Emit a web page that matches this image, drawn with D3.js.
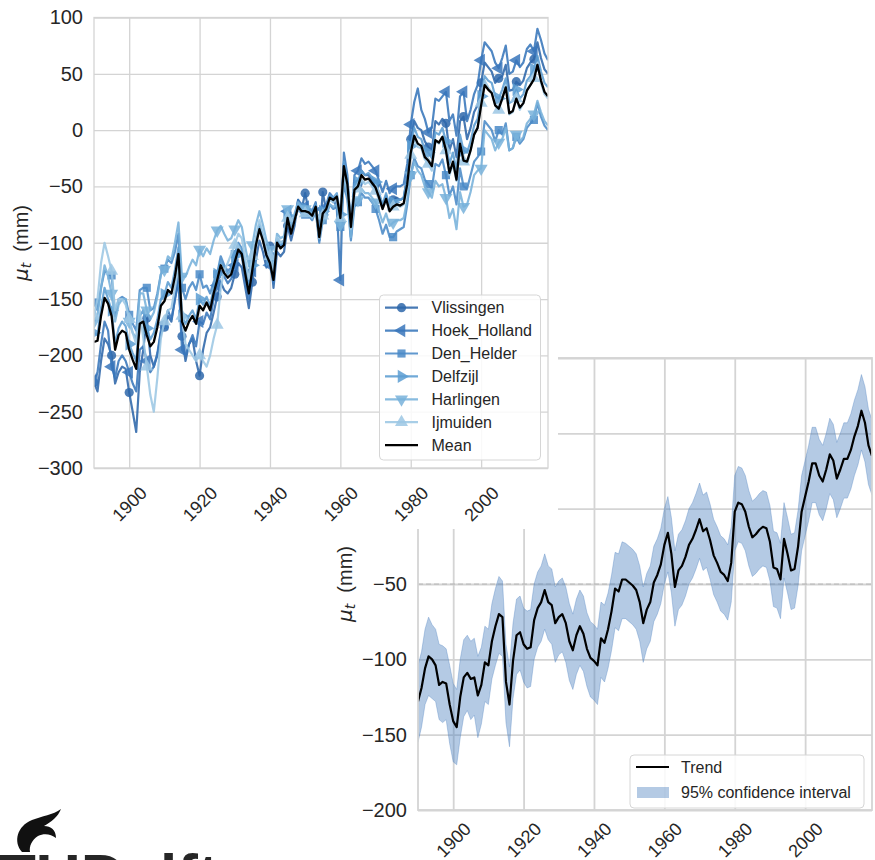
<!DOCTYPE html>
<html><head><meta charset="utf-8">
<script src="https://cdn.jsdelivr.net/npm/d3@7"></script>
<style>
body{margin:0;background:#fff}
svg{display:block}
text{font-family:"Liberation Sans",Arial,sans-serif;fill:#262626}
</style>
</head><body>
<svg id="c" width="875" height="860"></svg>
<script>
// ---------------- DATA ----------------
const startYear = 1890;
const xTicks = [1900, 1920, 1940, 1960, 1980, 2000];
const yTicksTop = [-300, -250, -200, -150, -100, -50, 0, 50, 100];
const yTicksTrend = [-200, -150, -100, -50, 0, 50, 100];
const stationNames = ["Vlissingen", "Hoek_Holland", "Den_Helder", "Delfzijl", "Harlingen", "Ijmuiden"];

const vlissingen = [-224,-232,-205,-185,-190,-200,-225,-215,-210,-212,
 -233,-250,-268,-215,-195,-167,-200,-210,-200,-180,
 -175,-165,-170,-150,-135,-183,-205,-190,-185,-205,
 -218,-195,-180,-175,-162,-148,-135,-142,-145,-140,
 -128,-118,-122,-140,-158,-135,-115,-98,-108,-122,
 -103,-140,-108,-112,-108,-85,-98,-85,-62,-70,
 -56,-72,-78,-66,-98,-55,-72,-58,-64,-60,
 -82,-30,-48,-90,-52,-48,-36,-40,-40,-45,
 -48,-58,-68,-58,-70,-62,-60,-62,-60,-40,
 -8,8,2,0,-10,-15,-18,8,5,10,
 6,-18,-8,-24,8,12,-8,2,16,22,
 42,60,56,52,42,46,48,58,35,36,
 43,40,44,55,60,63,78,64,54,50];
const hoekHolland = [-222,-215,-190,-170,-178,-210,-220,-205,-200,-205,
 -215,-225,-232,-195,-192,-205,-215,-210,-198,-178,
 -172,-160,-168,-150,-130,-195,-200,-190,-182,-192,
 -170,-172,-162,-168,-150,-138,-125,-130,-136,-132,
 -120,-108,-112,-132,-150,-125,-100,-85,-96,-112,
 -120,-136,-98,-104,-100,-72,-88,-78,-62,-66,
 -68,-70,-72,-64,-92,-70,-66,-56,-60,-70,
 -133,-20,-40,-95,-40,-36,-25,-30,-28,-32,
 -36,-45,-55,-45,-56,-52,-50,-50,-48,-30,
 5,25,37,18,10,-2,2,28,26,30,
 34,8,14,-5,30,34,8,18,32,40,
 62,78,74,70,60,55,64,75,50,52,
 62,56,60,72,76,70,90,80,68,62];
const denHelder = [-153,-160,-140,-125,-128,-129,-165,-150,-148,-150,
 -164,-172,-178,-142,-140,-140,-160,-158,-145,-128,
 -123,-115,-118,-108,-92,-140,-150,-140,-135,-142,
 -128,-140,-138,-145,-135,-128,-112,-120,-125,-122,
 -110,-100,-105,-122,-140,-118,-98,-84,-95,-108,
 -112,-128,-96,-100,-98,-76,-90,-80,-70,-74,
 -75,-76,-80,-72,-100,-80,-76,-66,-70,-68,
 -86,-48,-62,-98,-68,-64,-56,-60,-60,-64,
 -70,-80,-92,-84,-95,-95,-90,-88,-86,-66,
 -40,-25,-32,-34,-44,-48,-52,-30,-32,-26,
 -40,-58,-50,-66,-34,-50,-52,-40,-28,-24,
 -19,8,4,0,-10,0,-4,6,-18,-16,
 -6,-12,-8,2,6,9,24,12,4,0];
const delfzijl = [-180,-182,-158,-140,-150,-160,-190,-176,-170,-174,
 -190,-198,-205,-165,-160,-176,-186,-180,-168,-150,
 -146,-135,-140,-124,-104,-165,-172,-165,-160,-168,
 -150,-155,-148,-156,-140,-128,-116,-122,-128,-124,
 -112,-102,-106,-124,-140,-120,-98,-86,-94,-108,
 -115,-130,-98,-102,-100,-76,-90,-78,-66,-70,
 -70,-70,-74,-66,-92,-72,-68,-58,-60,-56,
 -75,-28,-44,-82,-48,-46,-36,-40,-38,-42,
 -46,-56,-66,-56,-68,-64,-62,-62,-60,-42,
 -14,2,-6,-8,-18,-20,-25,-2,-4,2,
 -10,-30,-20,-36,-4,-18,-20,-10,4,10,
 30,48,44,42,30,28,36,46,24,26,
 36,28,32,44,48,54,66,52,42,38];
const harlingen = [-170,-165,-140,-120,-130,-145,-170,-155,-150,-150,
 -170,-180,-185,-145,-145,-160,-168,-162,-148,-128,
 -124,-112,-115,-100,-82,-130,-130,-122,-115,-120,
 -106,-112,-105,-110,-98,-89,-85,-92,-98,-96,
 -88,-80,-86,-104,-120,-102,-84,-72,-84,-98,
 -106,-120,-92,-96,-94,-70,-84,-74,-64,-68,
 -70,-72,-76,-70,-96,-78,-74,-66,-68,-66,
 -84,-42,-58,-95,-64,-62,-52,-56,-56,-60,
 -64,-72,-82,-74,-85,-82,-80,-80,-78,-62,
 -40,-28,-36,-40,-50,-55,-60,-45,-50,-48,
 -60,-78,-70,-88,-55,-68,-66,-55,-40,-36,
 -34,0,-4,-8,-18,-11,-8,2,-18,-16,
 -4,-10,-6,6,10,14,26,16,8,4];
const ijmuiden = [-165,-150,-118,-100,-112,-125,-160,-150,-150,-155,
 -168,-180,-190,-160,-185,-210,-235,-250,-220,-185,
 -170,-160,-158,-140,-120,-165,-190,-195,-200,-205,
 -200,-205,-210,-200,-185,-173,-140,-125,-118,-110,
 -102,-92,-96,-115,-132,-112,-95,-80,-92,-106,
 -112,-126,-95,-100,-98,-78,-90,-80,-70,-72,
 -74,-74,-78,-70,-96,-76,-70,-62,-64,-60,
 -78,-36,-50,-88,-56,-52,-44,-48,-46,-50,
 -54,-62,-70,-62,-72,-68,-66,-68,-66,-50,
 -22,-8,-15,-16,-26,-30,-36,-10,-12,-6,
 -18,-40,-30,-45,-12,-28,-30,-18,-4,2,
 24,44,38,34,22,18,28,40,14,16,
 28,18,24,36,40,46,60,42,32,28];
const meanLevel = [-188,-187,-165,-149,-154,-165,-195,-182,-178,-180,
 -195,-204,-212,-172,-170,-182,-192,-188,-175,-156,
 -152,-142,-145,-130,-110,-170,-178,-170,-165,-172,
 -156,-160,-153,-160,-145,-133,-120,-127,-131,-128,
 -117,-106,-110,-128,-145,-124,-102,-88,-98,-111,
 -118,-133,-100,-105,-102,-78,-92,-80,-68,-72,
 -72,-73,-76,-68,-95,-74,-70,-60,-62,-59,
 -78,-32,-48,-86,-53,-50,-40,-44,-43,-47,
 -51,-60,-70,-61,-72,-68,-66,-67,-65,-48,
 -20,-5,-12,-14,-24,-27,-32,-9,-11,-6,
 -18,-38,-28,-44,-12,-27,-28,-18,-4,2,
 22,40,36,33,22,19,28,38,15,17,
 28,20,24,35,40,45,58,44,34,30];

const trend = [-128,-119,-106,-98,-100,-104,-117,-115,-116,-130,
 -141,-145,-125,-112,-109,-113,-112,-124,-117,-102,
 -104,-88,-78,-70,-72,-115,-130,-101,-84,-82,
 -90,-93,-92,-74,-66,-62,-54,-62,-64,-76,
 -72,-70,-76,-88,-94,-84,-78,-83,-93,-99,
 -101,-104,-86,-89,-80,-68,-53,-55,-47,-47,
 -49,-51,-54,-62,-76,-67,-62,-49,-44,-37,
 -24,-16,-30,-52,-41,-38,-32,-24,-20,-14,
 -7,-15,-13,-21,-31,-36,-42,-44,-48,-36,
 -2,4,3,-2,-12,-19,-17,-14,-12,-13,
 -22,-39,-40,-47,-20,-30,-41,-40,-25,-2,
 8,18,30,30,22,18,26,36,32,20,
 26,33,33,39,48,55,65,57,42,35];
const ciUpper = [-104,-95,-80,-72,-77,-80,-90,-91,-93,-104,
 -116,-120,-100,-87,-84,-88,-86,-98,-92,-78,
 -80,-63,-53,-45,-48,-90,-105,-76,-60,-58,
 -66,-68,-67,-50,-42,-38,-30,-38,-40,-52,
 -48,-46,-52,-63,-70,-60,-54,-58,-69,-75,
 -77,-80,-62,-64,-56,-44,-29,-30,-22,-23,
 -25,-27,-30,-38,-52,-43,-38,-25,-20,-13,
 0,8,-6,-28,-17,-14,-8,0,4,10,
 17,9,11,3,-7,-12,-18,-20,-24,-12,
 22,28,27,22,12,5,7,10,12,11,
 2,-15,-16,-23,4,-6,-17,-16,-1,22,
 32,42,54,54,46,42,50,60,56,44,
 50,57,57,63,72,79,89,81,66,59];
const ciLower = [-155,-145,-130,-124,-126,-128,-140,-142,-140,-156,
 -168,-170,-152,-138,-134,-140,-137,-152,-143,-128,
 -130,-113,-104,-96,-98,-142,-158,-126,-110,-107,
 -115,-119,-118,-100,-92,-88,-80,-87,-90,-102,
 -97,-95,-102,-114,-120,-110,-104,-108,-118,-125,
 -127,-130,-112,-115,-106,-94,-79,-81,-73,-73,
 -75,-77,-80,-88,-102,-93,-88,-75,-70,-63,
 -50,-42,-56,-78,-67,-64,-58,-50,-46,-40,
 -33,-41,-39,-47,-57,-62,-68,-70,-74,-62,
 -28,-22,-23,-28,-38,-45,-43,-40,-38,-39,
 -48,-65,-66,-73,-46,-56,-67,-66,-51,-28,
 -18,-8,4,4,-4,-8,0,10,6,-6,
 0,7,7,13,22,29,39,31,16,9];

// ---------------- STYLE ----------------
const stationColors = ["#2e67aa", "#3876bb", "#4a8ac7", "#5c9dd2", "#78b2db", "#9cc7e4"];
const stationSymbols = [
  {t: d3.symbolCircle, r: 0, s: 66},
  {t: d3.symbolTriangle, r: -90, s: 74},
  {t: d3.symbolSquare, r: 0, s: 66},
  {t: d3.symbolTriangle, r: 90, s: 74},
  {t: d3.symbolTriangle, r: 180, s: 74},
  {t: d3.symbolTriangle, r: 0, s: 74}
];
const stationData = [vlissingen, hoekHolland, denHelder, delfzijl, harlingen, ijmuiden];
const gridColor = "#d4d4d4";
const FONT = '"Liberation Sans", Arial, sans-serif';

const svg = d3.select("#c");
svg.append("rect").attr("width", 875).attr("height", 860).attr("fill", "#fff");

function yearOf(i) { return startYear + i; }

function drawFrame(g, x, y, yTicks, gridW, xLabOff) {
  const [x0, x1] = x.range();
  const [yb, yt] = y.range();
  const ya = g.append("g").attr("transform", `translate(${x0},0)`)
    .call(d3.axisLeft(y).tickValues(yTicks).tickSize(-(x1 - x0)).tickPadding(11));
  ya.select(".domain").remove();
  ya.attr("font-family", FONT).attr("font-size", 20);
  ya.selectAll("line").attr("stroke", gridColor).attr("stroke-width", gridW);
  ya.selectAll("text").attr("fill", "#262626");
  const xa = g.append("g").attr("transform", `translate(0,${yb})`)
    .call(d3.axisBottom(x).tickValues(xTicks).tickSize(-(yb - yt)).tickFormat(d3.format("d")));
  xa.select(".domain").remove();
  xa.attr("font-family", FONT).attr("font-size", 18);
  xa.selectAll("line").attr("stroke", gridColor).attr("stroke-width", gridW);
  xa.selectAll("text").attr("fill", "#262626").attr("y", null).attr("dy", null)
    .attr("transform", `translate(0,${xLabOff}) rotate(-45)`)
    .attr("text-anchor", "middle").attr("dominant-baseline", "central");
}
function drawSpines(g, x, y, gridW) {
  const [x0, x1] = x.range();
  const [yb, yt] = y.range();
  g.append("rect").attr("x", x0).attr("y", yt).attr("width", x1 - x0).attr("height", yb - yt)
    .attr("fill", "none").attr("stroke", gridColor).attr("stroke-width", gridW);
}
function yLabel(g, cx, cy) {
  const t = g.append("text").attr("transform", `translate(${cx},${cy}) rotate(-90)`)
    .attr("text-anchor", "middle").attr("font-size", 20).attr("dominant-baseline", "central");
  t.append("tspan").attr("font-family", "DejaVu Sans").attr("font-style", "italic").text("μ");
  t.append("tspan").attr("font-family", "DejaVu Sans").attr("font-style", "italic")
    .attr("font-size", 14).attr("dy", 5).text("t");
  t.append("tspan").attr("dy", -5).text("\u00a0\u00a0(mm)");
}

// ---------------- CHART 2 (behind) ----------------
const g2 = svg.append("g");
const x2 = d3.scaleLinear().domain([1890, 2019]).range([418, 872]);
const y2 = d3.scaleLinear().domain([-200, 100]).range([810, 358]);
drawFrame(g2, x2, y2, yTicksTrend, 1.8, 30);
g2.append("line").attr("x1", 418).attr("x2", 872).attr("y1", y2(-50)).attr("y2", y2(-50))
  .attr("stroke", "#9a9a9a").attr("stroke-width", 0.8).attr("stroke-dasharray", "5,3").attr("opacity", 0.7);
g2.append("clipPath").attr("id", "clip2").append("rect")
  .attr("x", 418).attr("y", 358).attr("width", 454).attr("height", 452);
const plot2 = g2.append("g").attr("clip-path", "url(#clip2)");
const band = d3.area().x((d, i) => x2(yearOf(i))).y0((d, i) => y2(ciLower[i])).y1((d, i) => y2(ciUpper[i]));
plot2.append("path").datum(trend).attr("d", band)
  .attr("fill", "#4c81bf").attr("fill-opacity", 0.42)
  .attr("stroke", "#4c81bf").attr("stroke-opacity", 0.35).attr("stroke-width", 1);
const line2 = d3.line().x((d, i) => x2(yearOf(i))).y(d => y2(d));
plot2.append("path").datum(trend).attr("d", line2)
  .attr("fill", "none").attr("stroke", "#000").attr("stroke-width", 2.2).attr("stroke-linejoin", "round");
drawSpines(g2, x2, y2, 1.8);
yLabel(g2, 345, 584);
// legend 2
const lg2 = g2.append("g");
lg2.append("rect").attr("x", 630).attr("y", 755).attr("width", 234).attr("height", 53).attr("rx", 4)
  .attr("fill", "#fff").attr("fill-opacity", 0.85).attr("stroke", "#d6d6d6");
lg2.append("line").attr("x1", 636).attr("x2", 669).attr("y1", 767).attr("y2", 767)
  .attr("stroke", "#000").attr("stroke-width", 2.2);
lg2.append("text").attr("x", 681).attr("y", 767).attr("dominant-baseline", "central")
  .attr("font-size", 16).text("Trend");
lg2.append("rect").attr("x", 637).attr("y", 787).attr("width", 32).attr("height", 11)
  .attr("fill", "#4c81bf").attr("fill-opacity", 0.42);
lg2.append("text").attr("x", 681).attr("y", 792.5).attr("dominant-baseline", "central")
  .attr("font-size", 16).text("95% confidence interval");

// ---------------- cover (figure 1 background) ----------------
svg.append("rect").attr("x", 0).attr("y", 0).attr("width", 558).attr("height", 529).attr("fill", "#fff");

// ---------------- CHART 1 ----------------
const g1 = svg.append("g");
const x1 = d3.scaleLinear().domain([1890, 2019]).range([94, 548]);
const y1 = d3.scaleLinear().domain([-300, 100]).range([468, 17.5]);
drawFrame(g1, x1, y1, yTicksTop, 1.3, 36);
g1.append("clipPath").attr("id", "clip1").append("rect")
  .attr("x", 94).attr("y", 17.5).attr("width", 454).attr("height", 450.5);
const plot1 = g1.append("g").attr("clip-path", "url(#clip1)");
const line1 = d3.line().x((d, i) => x1(yearOf(i))).y(d => y1(d));
stationData.forEach((arr, k) => {
  plot1.append("path").datum(arr).attr("d", line1)
    .attr("fill", "none").attr("stroke", stationColors[k]).attr("stroke-width", 2.2)
    .attr("stroke-opacity", 0.88).attr("stroke-linejoin", "round");
  const sym = d3.symbol().type(stationSymbols[k].t).size(stationSymbols[k].s);
  plot1.selectAll(null).data(arr.map((v, i) => [yearOf(i), v]).filter(d => d[0] % 5 === 0))
    .join("path").attr("d", sym)
    .attr("transform", d => `translate(${x1(d[0])},${y1(d[1])}) rotate(${stationSymbols[k].r})`)
    .attr("fill", stationColors[k]).attr("fill-opacity", 0.85);
});
plot1.append("path").datum(meanLevel).attr("d", line1)
  .attr("fill", "none").attr("stroke", "#000").attr("stroke-width", 2.3).attr("stroke-linejoin", "round");
drawSpines(g1, x1, y1, 1.3);
yLabel(g1, 21, 243);
// legend 1
const lg1 = g1.append("g");
lg1.append("rect").attr("x", 379.5).attr("y", 295).attr("width", 161).attr("height", 165).attr("rx", 4)
  .attr("fill", "#fff").attr("fill-opacity", 0.85).attr("stroke", "#d6d6d6");
const legNames = stationNames.concat(["Mean"]);
legNames.forEach((nm, k) => {
  const yy = 307.7 + k * 22.9;
  const col = k < 6 ? stationColors[k] : "#000";
  lg1.append("line").attr("x1", 385).attr("x2", 418).attr("y1", yy).attr("y2", yy)
    .attr("stroke", col).attr("stroke-width", 2.2).attr("stroke-opacity", k < 6 ? 0.88 : 1);
  if (k < 6) {
    const sym = d3.symbol().type(stationSymbols[k].t).size(stationSymbols[k].s);
    lg1.append("path").attr("d", sym)
      .attr("transform", `translate(401.5,${yy}) rotate(${stationSymbols[k].r})`)
      .attr("fill", col).attr("fill-opacity", 0.85);
  }
  lg1.append("text").attr("x", 431.5).attr("y", yy).attr("dominant-baseline", "central")
    .attr("font-size", 16).text(nm);
});

// ---------------- TU Delft logo (partially visible) ----------------
const logo = svg.append("g");
logo.append("path")
  .attr("d", "M22 852 C13 842 17 826 32 820 C42 816 53 815 61 809 C58 817 51 822 44 826 C51 826 56 830 56 838 C51 834 44 833 38 836 C32 840 29 846 30 852 Z")
  .attr("fill", "#111");
logo.append("text").attr("x", -2).attr("y", 897).attr("font-size", 62).attr("font-weight", "bold")
  .attr("fill", "#111").text("TUDelft");
</script>
</body></html>
